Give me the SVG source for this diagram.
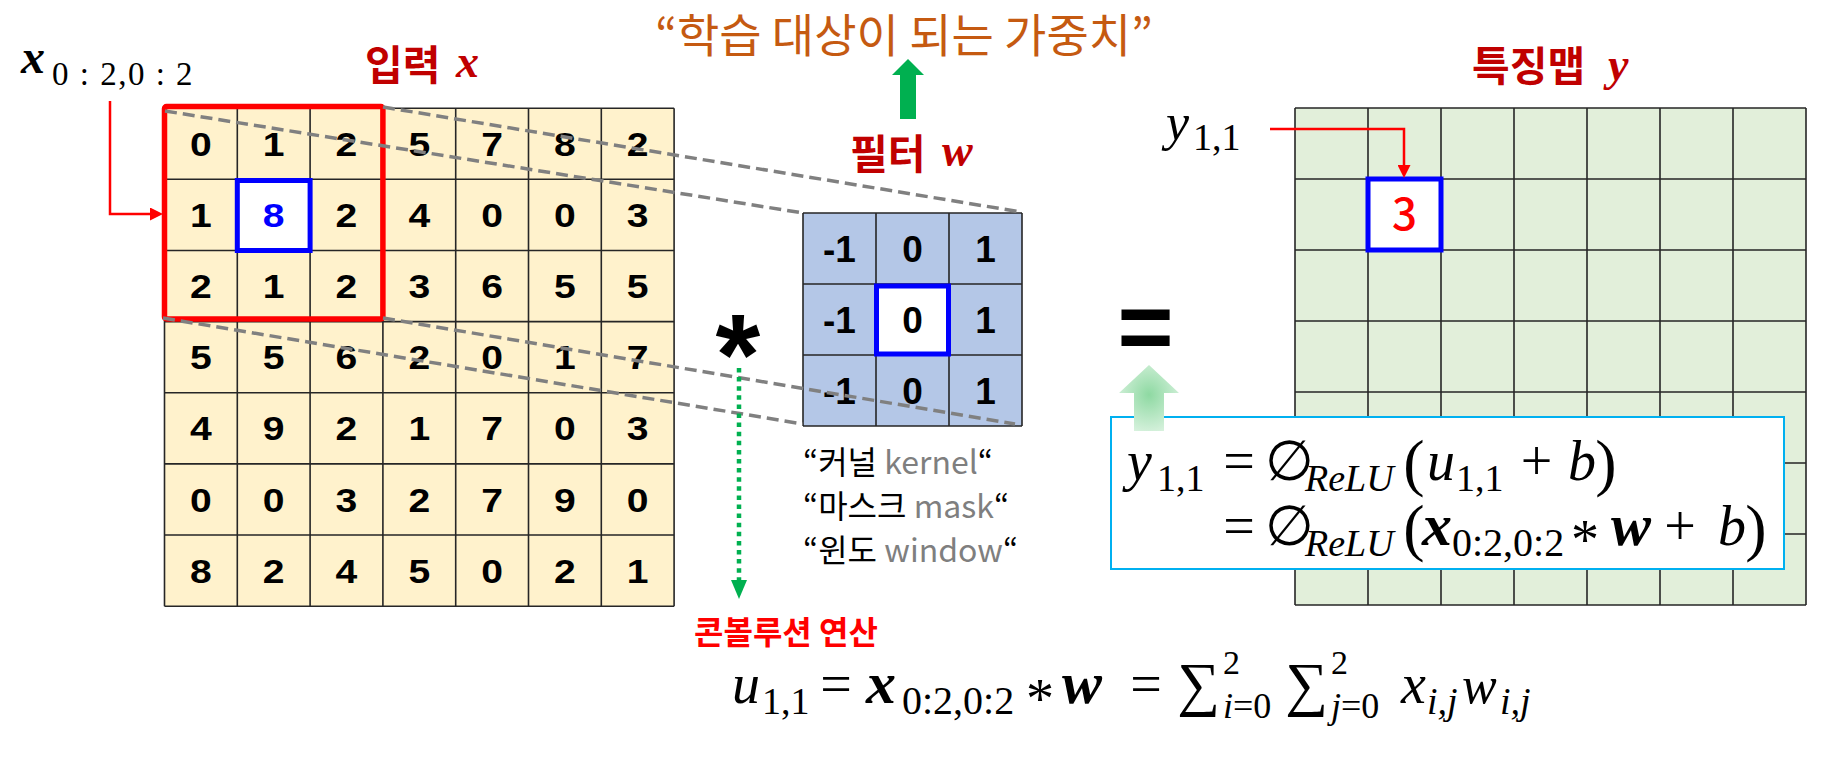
<svg xmlns="http://www.w3.org/2000/svg" width="1846" height="760" viewBox="0 0 1846 760">
<style>
.bg{fill:#FFFFFF}
.gl{stroke:#262626;stroke-width:1.6;fill:none}
.num{font-family:"Liberation Sans",Arial,sans-serif;font-weight:bold;text-anchor:middle;fill:#000}
.ko{font-family:"Noto Sans CJK KR","Noto Sans",sans-serif}
.hd{font-family:"Noto Sans CJK KR","Noto Sans",sans-serif;font-weight:bold;font-size:41px;fill:#C00000}
.mi{font-family:"Liberation Serif","DejaVu Serif",serif;font-style:italic}
.mu{font-family:"Liberation Serif","DejaVu Serif",serif;font-style:normal}
.mb{font-family:"Liberation Serif","DejaVu Serif",serif;font-style:italic;font-weight:bold}
.f56{font-size:56px}
.f38{font-size:38px}
.mid{text-anchor:middle}
.gray{fill:#7F7F7F}
.dash{stroke:#808080;stroke-width:3.5;stroke-dasharray:12 6;fill:none}
</style>
<defs>
<marker id="arrR" markerUnits="userSpaceOnUse" markerWidth="13" markerHeight="13" refX="0" refY="6.5" orient="auto">
<path d="M0,0 L13,6.5 L0,13 z" fill="#FF0000"/>
</marker>
<marker id="arrG" markerUnits="userSpaceOnUse" markerWidth="19" markerHeight="16" refX="0" refY="8" orient="auto">
<path d="M0,0 L19,8 L0,16 z" fill="#00B050"/>
</marker>
<radialGradient id="lg" cx="0.5" cy="0.45" r="0.6">
<stop offset="0" stop-color="#8ED9A2"/>
<stop offset="1" stop-color="#D8F2DE"/>
</radialGradient>
</defs>
<rect class="bg" x="0" y="0" width="1846" height="760"/>

<g id="title-weights">
<text class="ko" x="904" y="52" font-size="46" fill="#C55A11" text-anchor="middle">“학습 대상이 되는 가중치”</text>
</g>

<g id="label-input">
<text class="hd" x="365" y="80">입력</text>
<text class="mi" x="456" y="77" font-size="46" font-weight="bold" fill="#C00000">x</text>
</g>

<g id="label-x-sub">
<text class="mb" x="21" y="73" font-size="48">x</text>
<text class="mu" x="52" y="85" font-size="33" letter-spacing="1.5">0 : 2,0 : 2</text>
</g>

<g id="input-grid">
<rect x="164.5" y="108.2" width="509.6" height="498" fill="#FFF2CC"/>
<path class="gl" d="M164.5,108.2V606.2M237.3,108.2V606.2M310.1,108.2V606.2M382.9,108.2V606.2M455.7,108.2V606.2M528.5,108.2V606.2M601.3,108.2V606.2M674.1,108.2V606.2M164.5,108.2H674.1M164.5,179.3H674.1M164.5,250.5H674.1M164.5,321.6H674.1M164.5,392.8H674.1M164.5,463.9H674.1M164.5,535H674.1M164.5,606.2H674.1"/>
<rect x="237.3" y="180.5" width="72.8" height="70" fill="#FFFFFF" stroke="#0000FF" stroke-width="5"/>
<rect x="164.5" y="106.5" width="218.4" height="212.5" rx="2" fill="none" stroke="#FF0000" stroke-width="5.5"/>
<g class="num" font-size="34" transform="scale(1.15,1)">
<text x="174.7" y="156">0</text><text x="238" y="156">1</text><text x="301.3" y="156">2</text><text x="364.6" y="156">5</text><text x="427.9" y="156">7</text><text x="491.2" y="156">8</text><text x="554.5" y="156">2</text>
<text x="174.7" y="227.1">1</text><text x="238" y="227.1" fill="#0000FF">8</text><text x="301.3" y="227.1">2</text><text x="364.6" y="227.1">4</text><text x="427.9" y="227.1">0</text><text x="491.2" y="227.1">0</text><text x="554.5" y="227.1">3</text>
<text x="174.7" y="298.3">2</text><text x="238" y="298.3">1</text><text x="301.3" y="298.3">2</text><text x="364.6" y="298.3">3</text><text x="427.9" y="298.3">6</text><text x="491.2" y="298.3">5</text><text x="554.5" y="298.3">5</text>
<text x="174.7" y="369.4">5</text><text x="238" y="369.4">5</text><text x="301.3" y="369.4">6</text><text x="364.6" y="369.4">2</text><text x="427.9" y="369.4">0</text><text x="491.2" y="369.4">1</text><text x="554.5" y="369.4">7</text>
<text x="174.7" y="440.5">4</text><text x="238" y="440.5">9</text><text x="301.3" y="440.5">2</text><text x="364.6" y="440.5">1</text><text x="427.9" y="440.5">7</text><text x="491.2" y="440.5">0</text><text x="554.5" y="440.5">3</text>
<text x="174.7" y="511.7">0</text><text x="238" y="511.7">0</text><text x="301.3" y="511.7">3</text><text x="364.6" y="511.7">2</text><text x="427.9" y="511.7">7</text><text x="491.2" y="511.7">9</text><text x="554.5" y="511.7">0</text>
<text x="174.7" y="582.8">8</text><text x="238" y="582.8">2</text><text x="301.3" y="582.8">4</text><text x="364.6" y="582.8">5</text><text x="427.9" y="582.8">0</text><text x="491.2" y="582.8">2</text><text x="554.5" y="582.8">1</text>
</g>
</g>

<g id="label-filter">
<text class="hd" x="850" y="169">필터</text>
<text class="mb" x="942" y="166" font-size="46" fill="#C00000">w</text>
</g>
<g id="filter-grid">
<rect x="803" y="213" width="219" height="213" fill="#B4C7E7"/>
<path class="gl" d="M803,213V426M876,213V426M949,213V426M1022,213V426M803,213H1022M803,284H1022M803,355H1022M803,426H1022"/>
<rect x="876.5" y="286" width="72" height="68" fill="#FFFFFF" stroke="#0000FF" stroke-width="5"/>
<g class="num" font-size="37">
<text x="839.5" y="261.8">-1</text><text x="912.5" y="261.8">0</text><text x="985.5" y="261.8">1</text>
<text x="839.5" y="332.8">-1</text><text x="912.5" y="332.8">0</text><text x="985.5" y="332.8">1</text>
<text x="839.5" y="403.8">-1</text><text x="912.5" y="403.8">0</text><text x="985.5" y="403.8">1</text>
</g>
</g>
<g id="filter-names" class="ko" font-size="32">
<text x="803" y="474">“커널 <tspan class="gray">kernel</tspan>“</text>
<text x="803" y="518">“마스크 <tspan class="gray">mask</tspan>“</text>
<text x="803" y="562">“윈도 <tspan class="gray">window</tspan>“</text>
</g>

<g id="op-conv">
<text x="738" y="394" font-family="Liberation Sans,Arial,sans-serif" font-weight="bold" font-size="115" text-anchor="middle">*</text>
</g>
<g id="op-eq">
<text x="1145.5" y="360" font-family="Liberation Sans,Arial,sans-serif" font-weight="bold" font-size="96" text-anchor="middle">=</text>
</g>
<g id="label-conv">
<text class="ko" x="694" y="644" font-size="32" font-weight="bold" fill="#FF0000">콘볼루션 연산</text>
</g>

<g id="label-feature">
<text class="hd" x="1472" y="81">특징맵</text>
<text class="mi" x="1608" y="80" font-size="46" font-weight="bold" fill="#C00000">y</text>
</g>
<g id="feature-grid">
<rect x="1295" y="108" width="511" height="497" fill="#E2EFDA"/>
<path class="gl" d="M1295,108V605M1368,108V605M1441,108V605M1514,108V605M1587,108V605M1660,108V605M1733,108V605M1806,108V605M1295,108H1806M1295,179H1806M1295,250H1806M1295,321H1806M1295,392H1806M1295,463H1806M1295,534H1806M1295,605H1806"/>
<rect x="1368" y="179" width="73" height="71" fill="#FFFFFF" stroke="#0000FF" stroke-width="5"/>
<text x="1404.5" y="230" font-family="Noto Sans CJK KR,Noto Sans,sans-serif" font-weight="500" font-size="44" fill="#FF0000" text-anchor="middle">3</text>
</g>
<g id="label-y11">
<text class="mi" x="1166" y="140" font-size="52">y</text>
<text class="mu" x="1193" y="150" font-size="38">1,1</text>
</g>

<g id="formula-box">
<rect x="1111" y="417" width="673" height="152" fill="#FFFFFF" stroke="#00B0F0" stroke-width="2"/>
<text class="mi f56" x="1127" y="480">y</text>
<text class="mu f38" x="1157" y="491">1,1</text>
<text class="mu f56 mid" x="1239" y="480">=</text>
<text class="mu f56 mid" x="1289" y="480">∅</text>
<text class="mi f38" x="1305" y="491">ReLU</text>
<text class="mu mid" x="1414" y="484" font-size="64">(</text>
<text class="mi f56" x="1427" y="480">u</text>
<text class="mu f38" x="1456" y="491">1,1</text>
<text class="mu f56 mid" x="1536.5" y="480">+</text>
<text class="mi f56" x="1568" y="480">b</text>
<text class="mu mid" x="1606" y="484" font-size="64">)</text>
<text class="mu f56 mid" x="1239" y="545">=</text>
<text class="mu f56 mid" x="1289" y="545">∅</text>
<text class="mi f38" x="1305" y="556">ReLU</text>
<text class="mu mid" x="1414" y="549" font-size="64">(</text>
<text class="mb" x="1422" y="545" font-size="60">x</text>
<text class="mu" x="1452" y="556" font-size="40">0:2,0:2</text>
<text class="mu f56 mid" x="1585" y="559">*</text>
<text class="mb" x="1611" y="545" font-size="60">w</text>
<text class="mu f56 mid" x="1680" y="545">+</text>
<text class="mi f56" x="1718" y="545">b</text>
<text class="mu mid" x="1756" y="549" font-size="64">)</text>
</g>

<g id="formula-u">
<text class="mi f56" x="732" y="703">u</text>
<text class="mu f38" x="762" y="714">1,1</text>
<text class="mu f56 mid" x="836" y="703">=</text>
<text class="mb" x="866" y="703" font-size="60">x</text>
<text class="mu" x="902" y="714" font-size="40">0:2,0:2</text>
<text class="mu f56 mid" x="1040" y="718">*</text>
<text class="mb" x="1062" y="703" font-size="60">w</text>
<text class="mu f56 mid" x="1146" y="703">=</text>
<text class="mu" x="1177" y="704" font-size="60">∑</text>
<text class="mu" x="1223" y="674" font-size="34">2</text>
<text class="mu" x="1223" y="718" font-size="36"><tspan class="mi">i</tspan>=0</text>
<text class="mu" x="1285" y="704" font-size="60">∑</text>
<text class="mu" x="1331" y="674" font-size="34">2</text>
<text class="mu" x="1331" y="718" font-size="36"><tspan class="mi">j</tspan>=0</text>
<text class="mi f56" x="1401" y="703">x</text>
<text class="mi f38" x="1427" y="714">i,j</text>
<text class="mi" x="1462" y="703" font-size="52">w</text>
<text class="mi f38" x="1500" y="714">i,j</text>
</g>

<g id="connectors">
<path class="dash" d="M165,111 L803,213"/>
<path class="dash" d="M383,107 L1021,212"/>
<path class="dash" d="M163,318 L803,424"/>
<path class="dash" d="M383,318 L1015,424"/>
<path d="M110,101 V214 H150" fill="none" stroke="#FF0000" stroke-width="2.5" marker-end="url(#arrR)"/>
<path d="M1270,129 H1404 V165" fill="none" stroke="#FF0000" stroke-width="2.5" marker-end="url(#arrR)"/>
<path d="M739,368 V580" fill="none" stroke="#00B050" stroke-width="4.5" stroke-dasharray="4.5 4.6" marker-end="url(#arrG)"/>
<polygon points="908,59 924,75 916,75 916,119 900,119 900,75 892,75" fill="#00B050"/>
<polygon points="1149,365 1179,393 1164,393 1164,431 1134,431 1134,393 1119,393" fill="url(#lg)"/>
</g>
</svg>
